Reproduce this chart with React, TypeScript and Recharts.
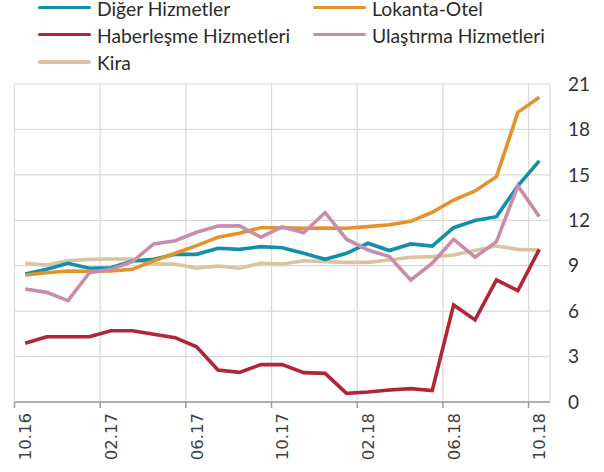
import React from 'react';
import { LineChart, Line, XAxis, YAxis, CartesianGrid } from 'recharts';

const months = [
  '10.16', '11.16', '12.16', '01.17', '02.17', '03.17', '04.17', '05.17', '06.17',
  '07.17', '08.17', '09.17', '10.17', '11.17', '12.17', '01.18', '02.18', '03.18',
  '04.18', '05.18', '06.18', '07.18', '08.18', '09.18', '10.18',
];

const digerHizmetler = [8.45, 8.76, 9.16, 8.83, 8.87, 9.31, 9.42, 9.75, 9.75, 10.15, 10.08, 10.26, 10.19, 9.82, 9.42, 9.82, 10.48, 10.0, 10.44, 10.3, 11.51, 11.98, 12.24, 14.27, 15.92];
const lokantaOtel = [8.39, 8.54, 8.65, 8.63, 8.65, 8.76, 9.33, 9.82, 10.33, 10.88, 11.14, 11.51, 11.51, 11.47, 11.49, 11.47, 11.58, 11.71, 11.93, 12.53, 13.34, 13.94, 14.88, 19.13, 20.12];
const haberlesme = [3.88, 4.31, 4.31, 4.31, 4.71, 4.71, 4.47, 4.25, 3.65, 2.11, 1.96, 2.47, 2.47, 1.94, 1.89, 0.57, 0.66, 0.79, 0.88, 0.75, 6.41, 5.42, 8.06, 7.35, 10.08];
const ulastirma = [7.46, 7.24, 6.69, 8.54, 8.76, 9.27, 10.44, 10.65, 11.21, 11.62, 11.64, 10.88, 11.56, 11.18, 12.51, 10.75, 10.04, 9.6, 8.06, 9.16, 10.75, 9.56, 10.59, 14.27, 12.24];
const kira = [9.16, 9.05, 9.33, 9.42, 9.44, 9.44, 9.11, 9.11, 8.83, 8.98, 8.83, 9.16, 9.11, 9.33, 9.27, 9.22, 9.22, 9.38, 9.56, 9.6, 9.71, 10.0, 10.3, 10.08, 10.04];

const xTickIdx = [0, 4, 8, 12, 16, 20, 24];
const yTicks = [0, 3, 6, 9, 12, 15, 18, 21];

const series = [
  { key: 'diger', name: 'Diğer Hizmetler', color: '#1190ab', values: digerHizmetler },
  { key: 'lokanta', name: 'Lokanta-Otel', color: '#e3922e', values: lokantaOtel },
  { key: 'haber', name: 'Haberleşme Hizmetleri', color: '#b02538', values: haberlesme },
  { key: 'ulas', name: 'Ulaştırma Hizmetleri', color: '#c98dac', values: ulastirma },
  { key: 'kira', name: 'Kira', color: '#d9c4a0', values: kira },
];
const drawOrder = ['kira', 'diger', 'lokanta', 'ulas', 'haber'];

const data = months.map((m, i) => {
  const row: Record<string, number | string> = { idx: i, month: m };
  series.forEach((s) => { row[s.key] = s.values[i]; });
  return row;
});

const W = 604;
const H = 472;
const M_LEFT = 14.5;
const Y_AXIS_W = 54;
const PLOT_W = W - M_LEFT - Y_AXIS_W;
const HALF_BAND = PLOT_W / months.length / 2;

const XTick = (props: any) => {
  const { x, y, payload } = props;
  const idx = Math.round(payload.value + 0.5);
  const bx = x + HALF_BAND + 6;
  const by = y + 3;
  return (
    <text x={bx} y={by} transform={`rotate(-90, ${bx}, ${by})`} textAnchor="end"
      fontFamily="DejaVu Sans" fontSize={16.5} fill="#404040">
      {months[idx]}
    </text>
  );
};

const Legend = () => {
  const cols = [[series[0], series[2], series[4]], [series[1], series[3]]];
  const colX = [38, 313];
  return (
    <div style={{ position: 'absolute', left: 0, top: 0, width: W, height: 80, pointerEvents: 'none' }}>
      {cols.map((col, ci) => col.map((s, ri) => (
        <div key={s.key} style={{ position: 'absolute', left: colX[ci], top: 7.5 + ri * 27.2 - 10, height: 20, display: 'flex', alignItems: 'center', whiteSpace: 'nowrap' }}>
          <div style={{ width: 53, height: 3.6, borderRadius: 2, background: s.color }} />
          <span style={{ marginLeft: 6, fontFamily: 'Lato', fontSize: 19.3, lineHeight: 1, color: '#2b2b2b', position: 'relative', top: 1 }}>{s.name}</span>
        </div>
      )))}
    </div>
  );
};

export default function App() {
  return (
    <div style={{ position: 'relative', width: W, height: H }}>
      <style>{'body{margin:0}'}</style>
      <LineChart width={W} height={H} data={data} margin={{ top: 84, right: 0, bottom: 0, left: M_LEFT }}>
        <CartesianGrid stroke="#d9d9d9" strokeWidth={1.2} />
        <XAxis dataKey="idx" type="number" domain={[-0.5, months.length - 0.5]}
          ticks={xTickIdx.map((i) => i - 0.5)} interval={0} height={70}
          axisLine={{ stroke: '#9a9a9a', strokeWidth: 1.5 }} tickLine={{ stroke: '#9a9a9a', strokeWidth: 1.5 }}
          tickSize={6} tickMargin={2} tick={<XTick />} allowDataOverflow />
        <YAxis orientation="right" width={Y_AXIS_W} domain={[0, 21]} ticks={yTicks} interval={0}
          axisLine={false} tickLine={false} tickSize={0} tickMargin={18}
          tick={{ fontFamily: 'Lato', fontSize: 19, fill: '#333', textAnchor: 'start' }} />
        {drawOrder.map((k) => {
          const s = series.find((x) => x.key === k)!;
          return (
            <Line key={s.key} type="linear" dataKey={s.key} name={s.name} stroke={s.color}
              strokeWidth={3.6} dot={false} activeDot={false} isAnimationActive={false} />
          );
        })}
      </LineChart>
      <Legend />
    </div>
  );
}
